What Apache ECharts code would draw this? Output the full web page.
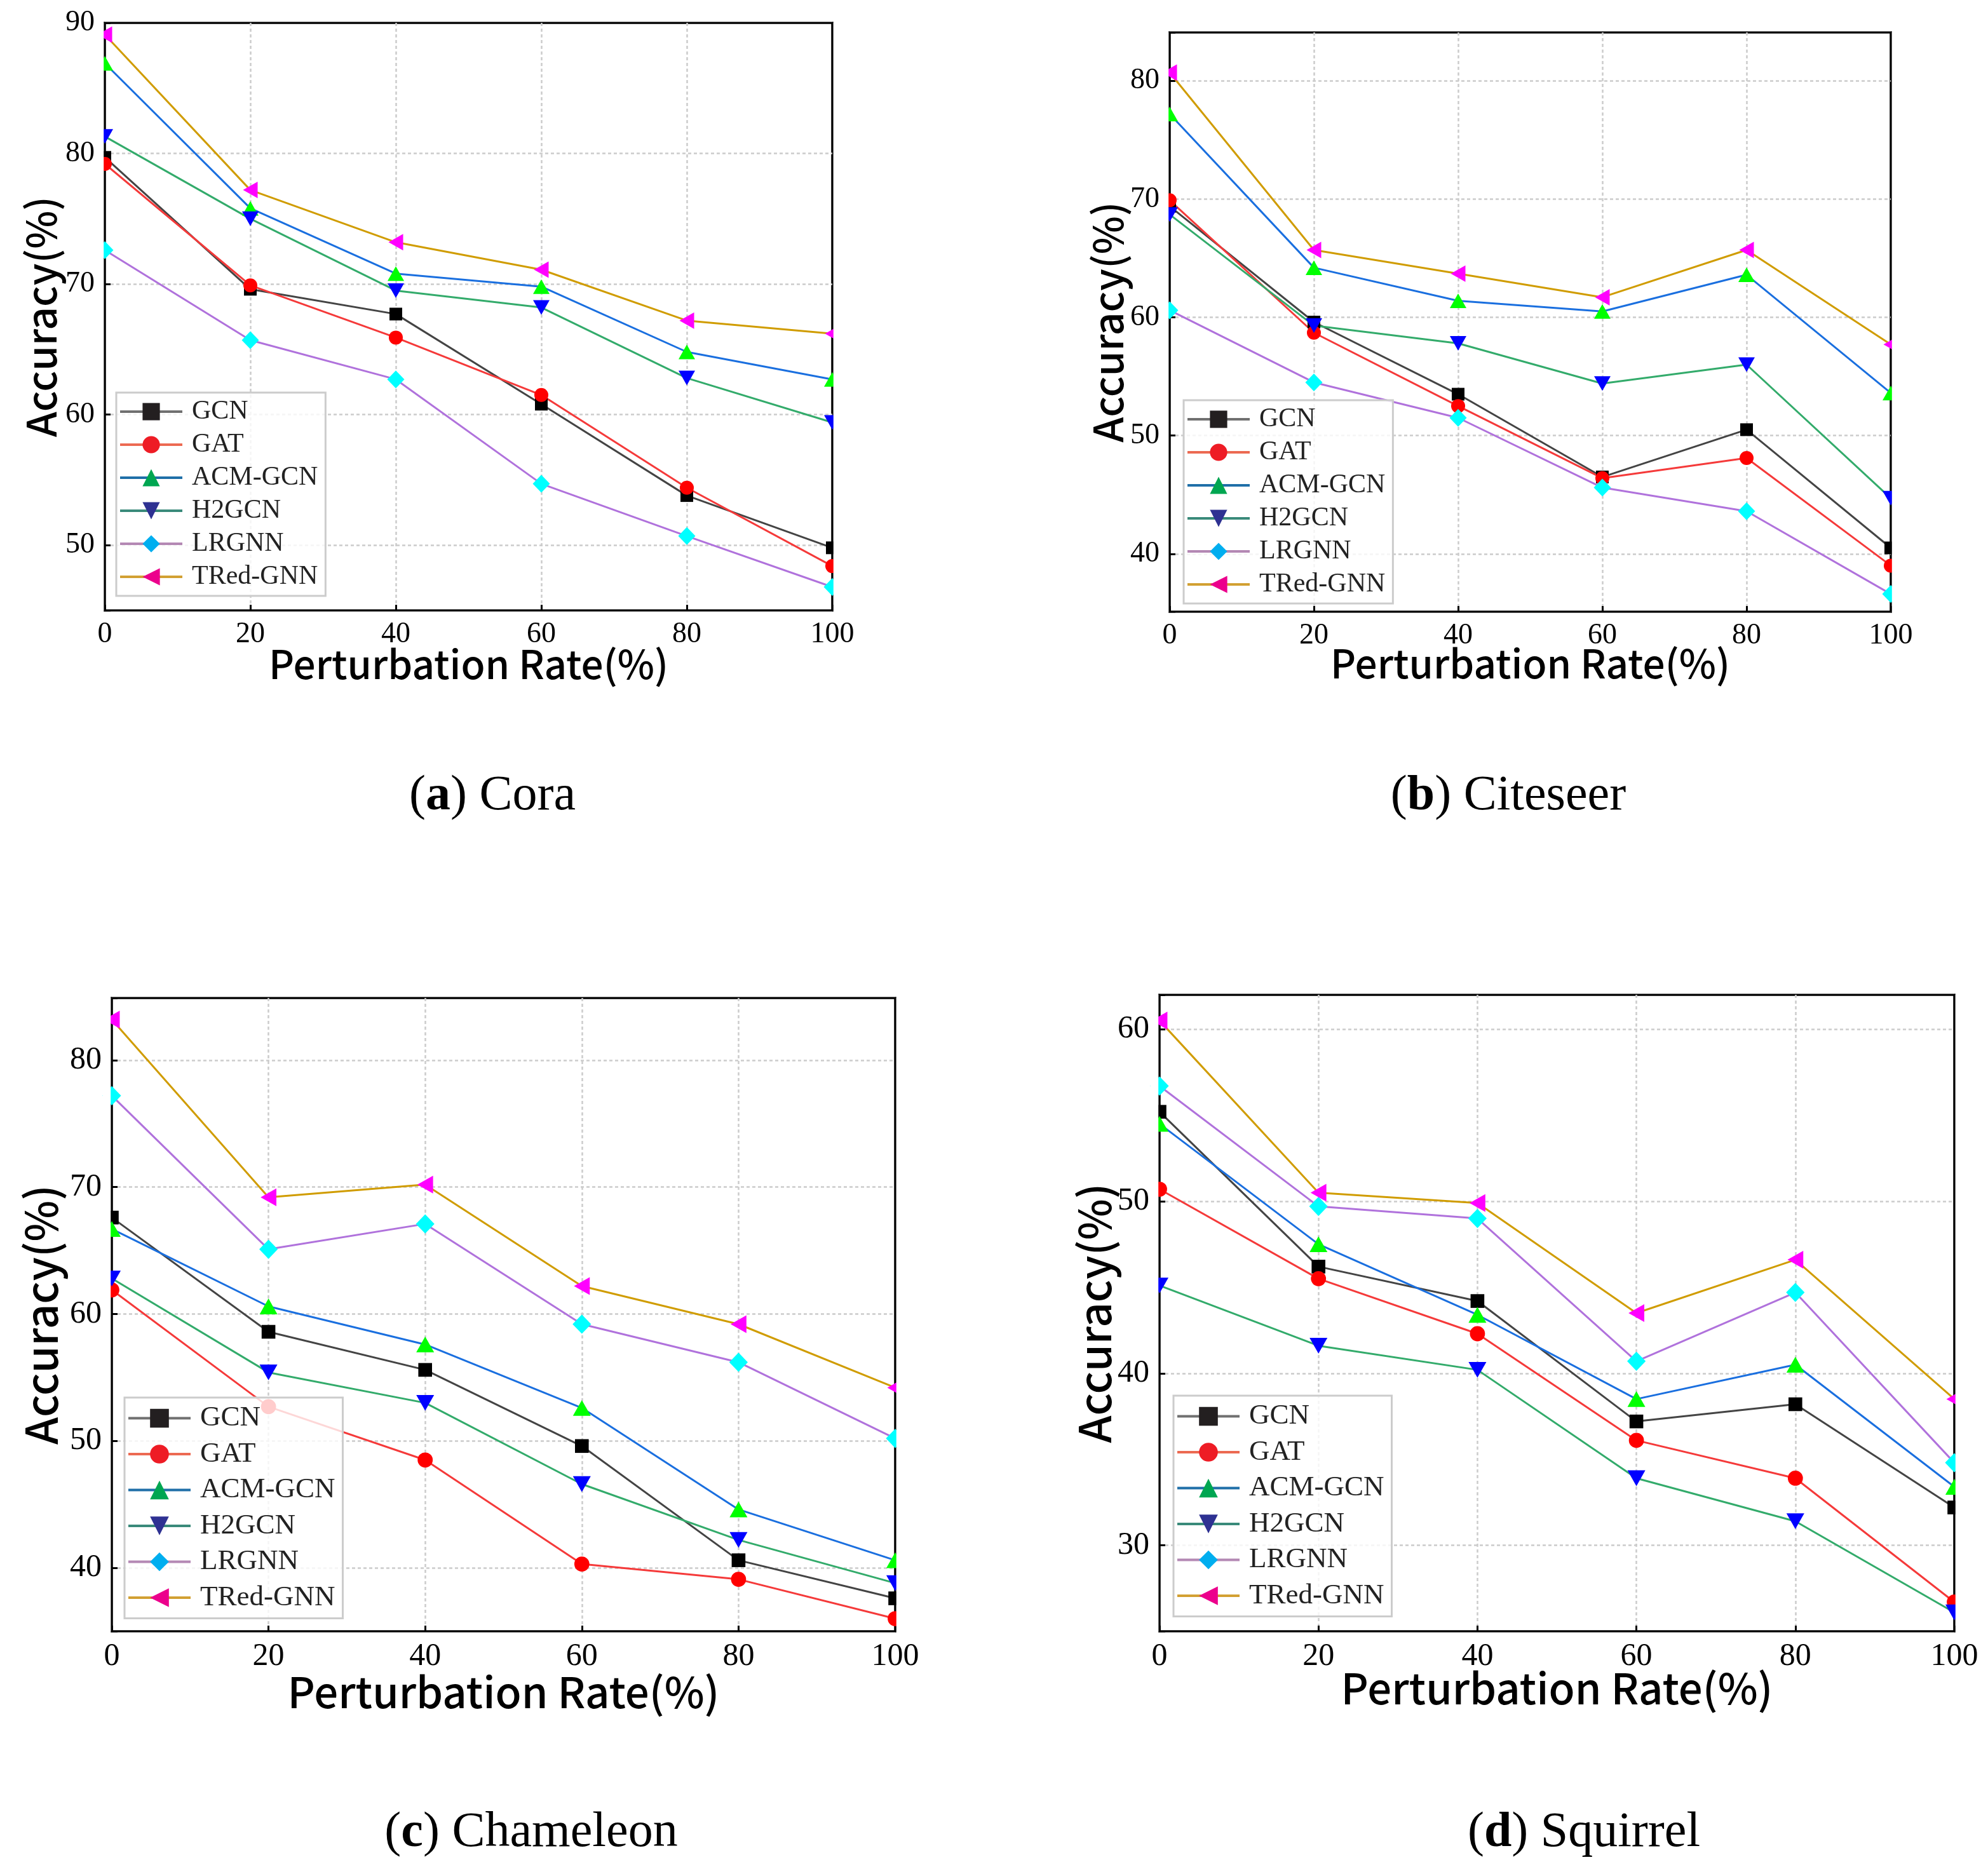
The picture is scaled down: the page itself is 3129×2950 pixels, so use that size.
<!DOCTYPE html>
<html>
<head>
<meta charset="utf-8">
<script src="https://cdn.jsdelivr.net/npm/echarts@6/dist/echarts.min.js"></script>
<style>
html, body { margin: 0; padding: 0; background: #fff; }
#main { width: 3129px; height: 2950px; }
</style>
</head>
<body>
<div id="main"></div>
<script>
// perturbation rates (x axis)
var rates = [0, 20, 40, 60, 80, 100];
var models = ['GCN', 'GAT', 'ACM-GCN', 'H2GCN', 'LRGNN', 'TRed-GNN'];

// accuracy (%), one row per model in the order above
var cora = [
  [79.7, 69.6, 67.7, 60.8, 53.8, 49.8],
  [79.2, 69.9, 65.9, 61.5, 54.4, 48.4],
  [86.9, 75.8, 70.8, 69.8, 64.8, 62.7],
  [81.3, 75.0, 69.5, 68.2, 62.8, 59.4],
  [72.6, 65.7, 62.7, 54.7, 50.7, 46.8],
  [89.1, 77.2, 73.2, 71.1, 67.2, 66.2]
];
var citeseer = [
  [69.4, 59.6, 53.5, 46.5, 50.5, 40.5],
  [69.9, 58.7, 52.5, 46.4, 48.1, 39.0],
  [77.2, 64.2, 61.4, 60.5, 63.6, 53.6],
  [68.7, 59.3, 57.8, 54.4, 56.0, 44.7],
  [60.6, 54.5, 51.5, 45.6, 43.6, 36.6],
  [80.7, 65.7, 63.7, 61.7, 65.7, 57.7]
];
var chameleon = [
  [67.6, 58.6, 55.6, 49.6, 40.6, 37.6],
  [61.9, 52.7, 48.5, 40.3, 39.1, 36.0],
  [66.7, 60.6, 57.6, 52.6, 44.6, 40.6],
  [62.8, 55.4, 53.0, 46.6, 42.2, 38.8],
  [77.2, 65.1, 67.1, 59.2, 56.2, 50.2],
  [83.2, 69.2, 70.2, 62.2, 59.2, 54.2]
];
var squirrel = [
  [55.2, 46.2, 44.2, 37.2, 38.2, 32.2],
  [50.7, 45.5, 42.3, 36.1, 33.9, 26.7],
  [54.5, 47.5, 43.4, 38.5, 40.5, 33.4],
  [45.1, 41.6, 40.2, 33.9, 31.4, 26.1],
  [56.7, 49.7, 49.0, 40.7, 44.7, 34.8],
  [60.5, 50.5, 49.9, 43.5, 46.6, 38.5]
];

var datasets = [cora, citeseer, chameleon, squirrel];
var captions = ['Cora', 'Citeseer', 'Chameleon', 'Squirrel'];
var letters = ['a', 'b', 'c', 'd'];
var yMins = [45, 35.1, 35.0, 25.0];
var yMaxs = [90, 84.1, 84.9, 62.0];

// styling
var lineColors = ['#444444', '#f53a3a', '#1a6fdf', '#33ab6b', '#b072dc', '#d09c00'];
var markColors = ['#000000', '#ff0000', '#00ff00', '#0000ff', '#00ffff', '#ff00ff'];
var legLineColors = ['#707070', '#ec6a52', '#1f6fa8', '#3a8a7a', '#b488b4', '#d2a032'];
var legMarkColors = ['#231f20', '#ee1c25', '#00a651', '#2e3192', '#00aeef', '#ec008c'];
var symbols = ['rect', 'circle', 'triangle', 'path://M0,0L2,0L1,1.75Z', 'diamond', 'path://M1.75,0L1.75,2L0,1Z'];
var symbolSizes = [[20, 20], [22, 22], [26, 23], [26, 23], [27, 28], [23, 26]];

var panels = [
  {grid: [165, 36, 1145, 925], legend: [183, 618], cap: [775, 1254], k: 1, yGap: 68, xGap: 53},
  {grid: [1841, 51, 1135, 912], legend: [1863, 630], cap: [2374, 1254], k: 1, yGap: 65, xGap: 50},
  {grid: [176, 1571, 1233, 997], legend: [196, 2200], cap: [836, 2886], k: 1.08, yGap: 77, xGap: 62},
  {grid: [1825, 1566, 1251, 1002], legend: [1847, 2197], cap: [2493, 2886], k: 1.08, yGap: 68, xGap: 56}
];

var serif = 'Liberation Serif';
var sans = 'Noto Sans CJK SC';

var grids = [], xAxes = [], yAxes = [], legends = [], series = [], texts = [];

panels.forEach(function (p, pi) {
  var k = p.k;
  var gl = p.grid[0], gt = p.grid[1], gw = p.grid[2], gh = p.grid[3];
  grids.push({
    left: gl, top: gt, width: gw, height: gh,
    show: true, borderColor: '#000', borderWidth: 3.5, backgroundColor: 'transparent'
  });
  xAxes.push({
    type: 'value', gridIndex: pi, min: 0, max: 100, interval: 20,
    name: 'Perturbation Rate(%)', nameLocation: 'middle', nameGap: p.xGap, nameMoveOverlap: false,
    nameTextStyle: {fontFamily: sans, fontWeight: 500, fontSize: Math.round(62 * k), color: '#000'},
    axisLine: {show: false},
    axisTick: {show: true, inside: true, length: 9, lineStyle: {color: '#000', width: 3}},
    axisLabel: {fontFamily: serif, fontSize: Math.round(46 * k), color: '#000', margin: 15},
    splitLine: {show: true, showMinLine: false, showMaxLine: false,
      lineStyle: {color: '#cccccc', width: 2.5, type: [5, 4]}}
  });
  yAxes.push({
    type: 'value', gridIndex: pi, min: yMins[pi], max: yMaxs[pi],
    minInterval: 10, maxInterval: 10,
    name: 'Accuracy(%)', nameLocation: 'middle', nameGap: p.yGap, nameRotate: 90, nameMoveOverlap: false,
    nameTextStyle: {fontFamily: sans, fontWeight: 500, fontSize: Math.round(64 * k), color: '#000'},
    axisLine: {show: false},
    axisTick: {show: true, inside: true, length: 9, lineStyle: {color: '#000', width: 3}},
    axisLabel: {
      fontFamily: serif, fontSize: Math.round(46 * k), color: '#000', margin: 16,
      formatter: function (v) { return Math.abs(v % 10) < 1e-6 ? String(Math.round(v)) : ''; }
    },
    splitLine: {show: true, showMinLine: false, showMaxLine: false,
      lineStyle: {color: '#cccccc', width: 2.5, type: [5, 4]}}
  });
  legends.push({
    orient: 'vertical', left: p.legend[0], top: p.legend[1], align: 'left',
    selectedMode: false, z: 20,
    itemWidth: 98, itemHeight: Math.round(34 * k), itemGap: 6 * k,
    padding: [7 * k, 12, 7 * k, 4],
    backgroundColor: 'rgba(255,255,255,0.8)', borderColor: '#cccccc', borderWidth: 3,
    textStyle: {fontFamily: serif, fontSize: Math.round(42 * k), lineHeight: Math.round(46 * k), color: '#222', padding: [0, 0, 0, 10]},
    data: models.map(function (m, i) {
      return {name: m, itemStyle: {color: legMarkColors[i]}, lineStyle: {color: legLineColors[i], width: 4}};
    })
  });
  models.forEach(function (m, i) {
    series.push({
      type: 'line', name: m, xAxisIndex: pi, yAxisIndex: pi,
      data: rates.map(function (x, j) { return [x, datasets[pi][i][j]]; }),
      symbol: symbols[i],
      symbolSize: [symbolSizes[i][0] * k, symbolSizes[i][1] * k],
      itemStyle: {color: markColors[i]},
      lineStyle: {color: lineColors[i], width: 3},
      clip: true, z: 2,
      emphasis: {disabled: true}
    });
  });
  // white strips just outside the frame, so markers on the frame look clipped
  var strips = [
    [gl - 14, gt, 12.2, gh],
    [gl + gw + 1.8, gt, 14, gh],
    [gl, gt - 16, gw, 14.2],
    [gl, gt + gh + 1.8, gw, 12]
  ];
  strips.forEach(function (s) {
    texts.push({
      type: 'rect', z: 10, silent: true,
      shape: {x: s[0], y: s[1], width: s[2], height: s[3]},
      style: {fill: '#ffffff'}
    });
  });
  texts.push({
    type: 'text', x: p.cap[0], y: p.cap[1], z: 10,
    style: {
      text: '({b|' + letters[pi] + '}) ' + captions[pi],
      font: '78px "' + serif + '"', fill: '#000',
      textAlign: 'center', textVerticalAlign: 'middle',
      rich: {b: {fontFamily: serif, fontSize: 78, fontWeight: 'bold', fill: '#000'}}
    }
  });
});

var chart = echarts.init(document.getElementById('main'));
chart.setOption({
  animation: false,
  backgroundColor: '#fff',
  grid: grids,
  xAxis: xAxes,
  yAxis: yAxes,
  legend: legends,
  series: series,
  graphic: {elements: texts}
});
</script>
</body>
</html>
